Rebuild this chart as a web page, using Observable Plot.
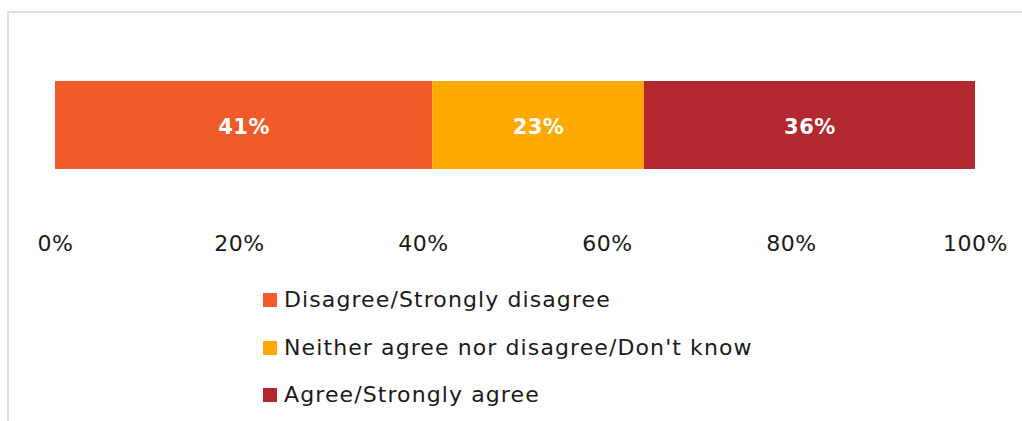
<!DOCTYPE html>
<html>
<head>
<meta charset="utf-8">
<script src="https://cdn.jsdelivr.net/npm/d3@7"></script>
<script src="https://cdn.jsdelivr.net/npm/@observablehq/plot@0.6"></script>
<style>
  html, body { margin: 0; padding: 0; background: #fff; }
  #wrap { position: relative; width: 1022px; height: 421px; overflow: hidden; font-family: "DejaVu Sans", sans-serif; }
  #frame { position: absolute; left: 7px; top: 11px; right: -4px; bottom: -4px; border-top: 2px solid #dedede; border-left: 2px solid #dedede; pointer-events: none; }
  #chart { position: absolute; left: 0; top: 0; }
  #legend { position: absolute; left: 263px; top: 0; }
  .item { position: absolute; left: 0; white-space: nowrap; font-size: 22px; letter-spacing: 1.1px; color: #1a1a1a; height: 26px; line-height: 26px; }
  .sw { position: absolute; left: 0; top: 6px; width: 14px; height: 14px; }
  .lab { position: absolute; left: 21px; top: 0; }
</style>
</head>
<body>
<div id="wrap">
  <div id="chart"></div>
  <div id="legend"></div>
  <div id="frame"></div>
</div>
<script>
const categories = ["Disagree/Strongly disagree", "Neither agree nor disagree/Don't know", "Agree/Strongly agree"];
const values = [41, 23, 36];
const colors = ["#F15A29", "#FFAA00", "#B3282E"];
const tickValues = [0, 20, 40, 60, 80, 100];

const data = categories.map((c, i) => ({category: c, value: values[i], row: "row"}));

const chart = Plot.plot({
  width: 1022,
  height: 265,
  marginTop: 81,
  marginBottom: 96,
  marginLeft: 55,
  marginRight: 47,
  style: {background: "transparent", fontFamily: "DejaVu Sans, sans-serif", fontSize: "22px", color: "#1a1a1a", letterSpacing: "0.5px"},
  x: {domain: [0, 100], ticks: tickValues, tickFormat: d => d + "%", tickSize: 0, tickPadding: 66, label: null, axis: "bottom"},
  y: {axis: null, padding: 0},
  color: {domain: categories, range: colors},
  marks: [
    Plot.barX(data, Plot.stackX({x: "value", y: "row", fill: "category"})),
    Plot.text(data, Plot.stackX({x: "value", y: "row", text: d => d.value + "%", fill: "white", fontSize: 21, fontWeight: "bold", dy: 2}))
  ]
});
document.getElementById("chart").appendChild(chart);

const legend = document.getElementById("legend");
const rowTops = [287, 335, 382];
categories.forEach((c, i) => {
  const it = document.createElement("div");
  it.className = "item";
  it.style.top = rowTops[i] + "px";
  const sw = document.createElement("span");
  sw.className = "sw";
  sw.style.background = colors[i];
  const lab = document.createElement("span");
  lab.className = "lab";
  lab.textContent = c;
  it.appendChild(sw);
  it.appendChild(lab);
  legend.appendChild(it);
});
</script>
</body>
</html>
